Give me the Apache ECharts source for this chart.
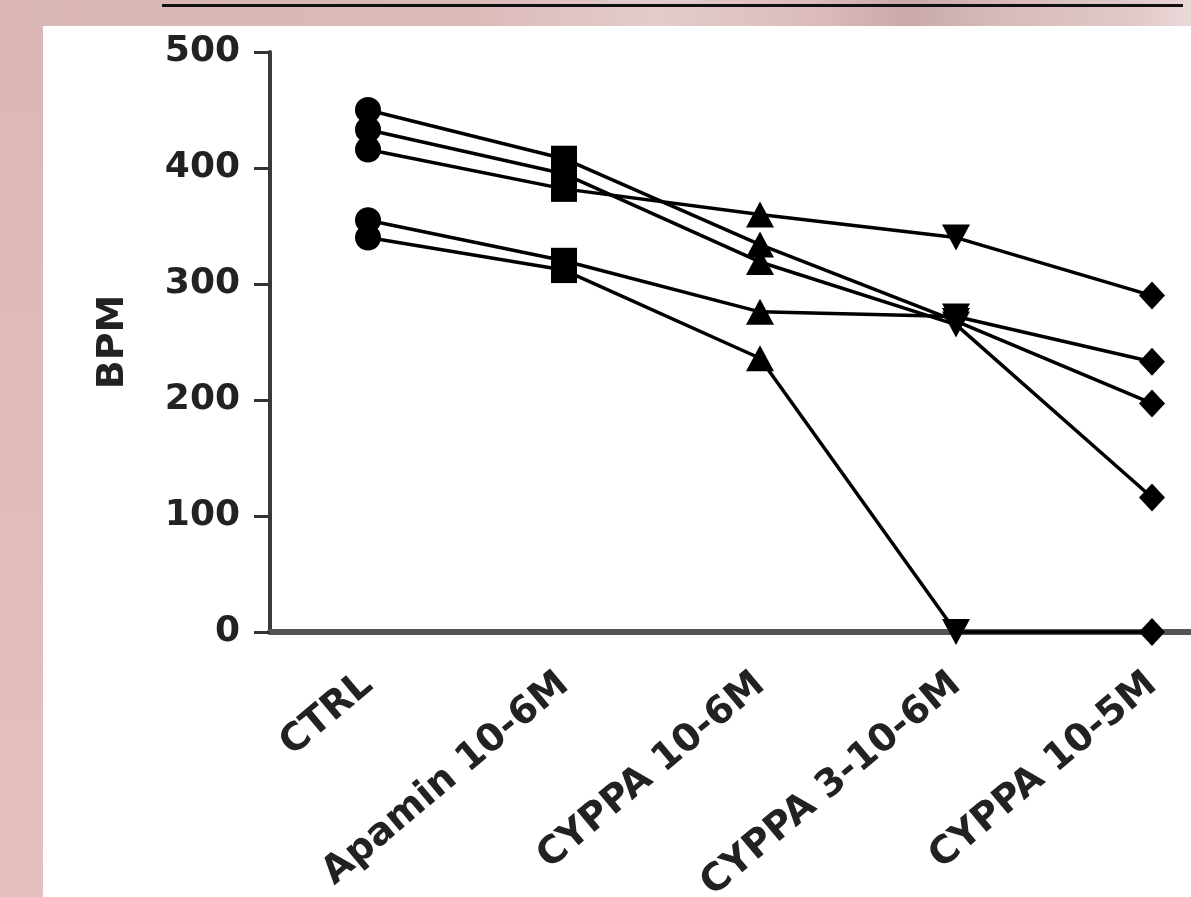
<!DOCTYPE html>
<html>
<head>
<meta charset="utf-8">
<script src="https://cdn.jsdelivr.net/npm/echarts@6/dist/echarts.min.js"></script>
<style>
  html, body { margin: 0; padding: 0; }
  body { width: 1191px; height: 897px; position: relative; overflow: hidden;
         background: linear-gradient(180deg, #dcb6b6 0%, #e6c0c0 100%); }
  #topstrip { position: absolute; left: 0; top: 0; width: 1191px; height: 26px;
         background: linear-gradient(90deg, #d9b5b5 0%, #dcbaba 40%, #e4cccc 55%, #dcbcbc 68%, #c9a9a9 76%, #d8bcbc 85%, #e2c8c8 95%, #ead8d8 100%); }
  #topline { position: absolute; left: 162px; top: 4px; width: 1021px; height: 3px; background: #111; }
  #panel { position: absolute; left: 43px; top: 26px; right: 0; bottom: 0; background: #fff; }
  #chart { position: absolute; left: 0; top: 0; width: 1320px; height: 897px; }
</style>
</head>
<body>
<div id="topstrip"></div>
<div id="topline"></div>
<div id="panel"></div>
<div id="chart"></div>
<script>
// ---- data ----
const categories = ['CTRL', 'Apamin 10-6M', 'CYPPA 10-6M', 'CYPPA 3-10-6M', 'CYPPA 10-5M'];
const markerShapes = ['circle', 'rect', 'triangle', 'path://M0,0L10,0L5,10Z', 'diamond'];
const yTicks = [0, 100, 200, 300, 400, 500];
const heart1 = [450, 408, 334, 268, 197];
const heart2 = [433, 395, 319, 265, 116];
const heart3 = [416, 382, 360, 340, 290];
const heart4 = [355, 320, 276, 272, 233];
const heart5 = [340, 312, 236, 0, 0];
const allSeries = [heart1, heart2, heart3, heart4, heart5];

const FONT = 'DejaVu Sans';
const markerSizes = [[26, 26], [26, 26], [28, 26], [28, 26], [26, 28]];

const chart = echarts.init(document.getElementById('chart'), null, { renderer: 'canvas' });
chart.setOption({
  animation: false,
  backgroundColor: 'transparent',
  grid: { left: 270, top: 52, width: 980, height: 580, containLabel: false, outerBoundsMode: 'none' },
  xAxis: {
    type: 'category',
    data: categories,
    boundaryGap: true,
    axisLine: { lineStyle: { color: '#555', width: 6 } },
    axisTick: { alignWithLabel: true, length: 12, lineStyle: { color: '#333', width: 3 } },
    axisLabel: {
      rotate: 40, margin: 48, interval: 0,
      color: '#222', fontFamily: FONT, fontWeight: 'bold', fontSize: 38
    },
    splitLine: { show: false }
  },
  yAxis: {
    type: 'value',
    min: yTicks[0], max: yTicks[yTicks.length - 1], interval: 100,
    name: 'BPM', nameLocation: 'middle', nameRotate: 90, nameGap: 138,
    nameTextStyle: { color: '#222', fontFamily: FONT, fontWeight: 'bold', fontSize: 38 },
    axisLine: { show: true, lineStyle: { color: '#3a3a3a', width: 4 } },
    axisTick: { show: true, length: 16, lineStyle: { color: '#333', width: 3 } },
    axisLabel: { margin: 30, color: '#222', fontFamily: FONT, fontWeight: 'bold', fontSize: 36 },
    splitLine: { show: false }
  },
  series: allSeries.map(function (vals) {
    return {
      type: 'line',
      data: vals,
      symbol: function (v, p) { return markerShapes[p.dataIndex]; },
      symbolSize: function (v, p) { return markerSizes[p.dataIndex]; },
      lineStyle: { color: '#000', width: 3.5 },
      itemStyle: { color: '#000', borderWidth: 0 },
      showAllSymbol: true,
      clip: false
    };
  })
});
</script>
</body>
</html>
